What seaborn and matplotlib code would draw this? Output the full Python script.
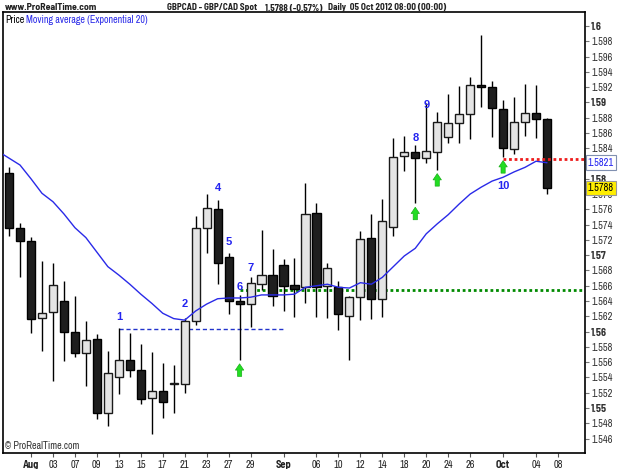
import numpy as np
import pandas as pd
import matplotlib
matplotlib.use("Agg")
import matplotlib.pyplot as plt
import matplotlib.transforms as mtransforms
import seaborn as sns

# daily GBPCAD candles, 30 Jul - 05 Oct 2012
days = pd.bdate_range("2012-07-30", "2012-10-05")
opens = [1.5808, 1.5736, 1.5719, 1.5618, 1.5626, 1.5640, 1.5599, 1.5572, 1.5590, 1.5493,
         1.5541, 1.5563, 1.5550, 1.5513, 1.5522, 1.5532, 1.5531, 1.5614, 1.5736, 1.5760,
         1.5698, 1.5640, 1.5636, 1.5662, 1.5674, 1.5687, 1.5661, 1.5658, 1.5755, 1.5660,
         1.5658, 1.5620, 1.5645, 1.5723, 1.5643, 1.5737, 1.5830, 1.5835, 1.5827, 1.5835,
         1.5855, 1.5873, 1.5885, 1.5923, 1.5920, 1.5891, 1.5839, 1.5874, 1.5886, 1.5878]
highs = [1.5815, 1.5742, 1.5724, 1.5692, 1.5690, 1.5666, 1.5647, 1.5614, 1.5597, 1.5575,
         1.5605, 1.5598, 1.5584, 1.5573, 1.5559, 1.5556, 1.5618, 1.5751, 1.5780, 1.5772,
         1.5703, 1.5648, 1.5671, 1.5733, 1.5708, 1.5695, 1.5696, 1.5795, 1.5768, 1.5690,
         1.5666, 1.5646, 1.5732, 1.5754, 1.5774, 1.5853, 1.5856, 1.5844, 1.5899, 1.5887,
         1.5911, 1.5921, 1.5933, 1.5988, 1.5928, 1.5903, 1.5907, 1.5924, 1.5923, 1.5880]
lows = [1.5725, 1.5671, 1.5598, 1.5575, 1.5535, 1.5562, 1.5567, 1.5529, 1.5486, 1.5476,
        1.5518, 1.5541, 1.5505, 1.5466, 1.5487, 1.5493, 1.5520, 1.5609, 1.5703, 1.5662,
        1.5623, 1.5563, 1.5606, 1.5654, 1.5634, 1.5627, 1.5619, 1.5637, 1.5619, 1.5618,
        1.5602, 1.5563, 1.5615, 1.5616, 1.5619, 1.5725, 1.5810, 1.5768, 1.5821, 1.5812,
        1.5847, 1.5847, 1.5852, 1.5894, 1.5855, 1.5829, 1.5832, 1.5856, 1.5853, 1.5780]
closes = [1.5736, 1.5719, 1.5616, 1.5624, 1.5661, 1.5599, 1.5572, 1.5589, 1.5493, 1.5546,
          1.5563, 1.5550, 1.5512, 1.5522, 1.5508, 1.5533, 1.5614, 1.5736, 1.5762, 1.5690,
          1.5640, 1.5636, 1.5664, 1.5674, 1.5647, 1.5660, 1.5656, 1.5754, 1.5658, 1.5683,
          1.5623, 1.5645, 1.5721, 1.5643, 1.5745, 1.5829, 1.5835, 1.5827, 1.5836, 1.5874,
          1.5873, 1.5885, 1.5923, 1.5920, 1.5893, 1.5840, 1.5874, 1.5886, 1.5878, 1.5788]

# exponential moving average (20), starting one day earlier (27 Jul)
ema_days = pd.bdate_range("2012-07-27", "2012-10-05")
ema20 = [1.5836, 1.5827, 1.5818, 1.5800, 1.5781, 1.5770, 1.5754, 1.5736, 1.5723, 1.5704,
         1.5685, 1.5674, 1.5662, 1.5649, 1.5637, 1.5624, 1.5617, 1.5615, 1.5627, 1.5636,
         1.5643, 1.5644, 1.5644, 1.5645, 1.5648, 1.5648, 1.5648, 1.5649, 1.5658, 1.5660,
         1.5662, 1.5658, 1.5657, 1.5664, 1.5662, 1.5671, 1.5685, 1.5699, 1.5709, 1.5728,
         1.5741, 1.5753, 1.5767, 1.5780, 1.5789, 1.5797, 1.5802, 1.5809, 1.5815, 1.5823,
         1.5821]

tick_days = ["2012-08-01", "2012-08-03", "2012-08-07", "2012-08-09", "2012-08-13",
             "2012-08-15", "2012-08-17", "2012-08-21", "2012-08-23", "2012-08-27",
             "2012-08-29", "2012-09-03", "2012-09-06", "2012-09-10", "2012-09-12",
             "2012-09-14", "2012-09-18", "2012-09-20", "2012-09-24", "2012-09-26",
             "2012-10-01", "2012-10-04", "2012-10-08"]
tick_names = ["Aug", "03", "07", "09", "13", "15", "17", "21", "23", "27", "29", "Sep",
              "06", "10", "12", "14", "18", "20", "24", "26", "Oct", "04", "08"]

# wave counts and signals
count_names = ["1", "2", "4", "5", "6", "7", "8", "9"]
count_days = ["2012-08-13", "2012-08-21", "2012-08-24", "2012-08-27", "2012-08-28",
              "2012-08-29", "2012-09-19", "2012-09-20"]
arrow_days = ["2012-08-28", "2012-09-19", "2012-09-21", "2012-10-01"]

blue_level, blue_from, blue_to = 1.5603, "2012-08-13", "2012-09-03"
green_level, green_from = 1.5654, "2012-08-28"
red_level, red_from = 1.5826, "2012-10-01"
last_price, last_ema = 1.5788, 1.5821

sns.set_style("white")
narrow = ['Archivo Narrow', 'Liberation Sans', 'DejaVu Sans']
narrow_bold = ['Barlow Semi Condensed', 'Liberation Sans', 'DejaVu Sans']
plt.rcParams['font.family'] = narrow

calendar = pd.bdate_range("2012-07-27", "2012-10-08")
pos = {d: k - 1 for k, d in enumerate(calendar)}
def px(d):
    return pos[pd.Timestamp(d)]

df = pd.DataFrame({"day": days, "open": opens, "high": highs, "low": lows, "close": closes})
df["x"] = df["day"].map(pos)
df = df.set_index("day")
ema = pd.DataFrame({"x": [pos[d] for d in ema_days], "ema": ema20})

fig = plt.figure(figsize=(6.25, 4.69), dpi=100)
ax = fig.add_axes([3 / 625, 1 - 453 / 469, 582 / 625, 441 / 469])

up = df.close >= df.open
ax.vlines(df.x, df.low, df.high, color='black', lw=1, zorder=2)
ax.bar(df.x[up], (df.close - df.open)[up], bottom=df.open[up], width=0.74,
       color='#e4e4e4', edgecolor='#1a1a1a', lw=1, zorder=3)
ax.bar(df.x[~up], (df.open - df.close)[~up], bottom=df.close[~up], width=0.74,
       color='#1e1e1e', edgecolor='black', lw=1, zorder=3)

sns.lineplot(data=ema, x="x", y="ema", color='#2a2ae8', lw=1, ax=ax, zorder=4)

ax.hlines(blue_level, px(blue_from), px(blue_to), colors='#2233cc', lw=1,
          linestyles=(0, (3, 2)), zorder=1)
ax.hlines(green_level, px(green_from), 60, colors='#008a00', lw=2,
          linestyles=(0, (1, 1)), zorder=1)
ax.hlines(red_level, px(red_from), 60, colors='#ee1c1c', lw=2,
          linestyles=(0, (1, 1)), zorder=5)

# count labels above the candles
label_offsets = [8, 10, 9, 8, 6, 7, 5, -1]
for name, d, off in zip(count_names, count_days, label_offsets):
    ax.annotate(name, xy=(px(d), df.loc[d, "high"]), xytext=(0, off),
                textcoords='offset points', ha='center', va='center',
                color='#2424f0', fontsize=8, fontweight='bold', family=['Liberation Sans'], zorder=6)
ax.annotate("10", xy=(px("2012-10-01"), df.loc["2012-10-01", "low"]), xytext=(0, -21),
            textcoords='offset points', ha='center', va='center',
            color='#2424f0', fontsize=8, fontweight='bold', family=['Liberation Sans'], zorder=6)

# green up arrows under the lows
for d in arrow_days:
    tip = mtransforms.offset_copy(ax.transData, fig=fig, y=-4, units='dots')
    ax.annotate('', xy=(px(d), df.loc[d, "low"]), xycoords=tip,
                xytext=(0, -9), textcoords='offset points',
                arrowprops=dict(arrowstyle='simple,head_length=0.45,head_width=0.6,tail_width=0.3',
                                fc='#22dd22', ec='#18b018', lw=0.5, shrinkA=0, shrinkB=0,
                                mutation_scale=10), zorder=6)

ax.set_xlim(-0.55, 52.46)
ax.set_ylim(1.54411, 1.60183)

ax.set_xticks([px(d) for d in tick_days])
ax.set_xticklabels(tick_names)
for lab in ax.get_xticklabels():
    if lab.get_text() in ("Aug", "Sep", "Oct"):
        lab.set_fontweight('bold')
        lab.set_family(narrow_bold)
ax.tick_params(axis='x', bottom=True, length=3, width=0.8, color='#555555', pad=2,
               labelsize=7.5, labelcolor='#222222')

yvals = np.round(np.arange(1.546, 1.6005, 0.002), 3)
ax.yaxis.tick_right()
ax.set_yticks(yvals)
ax.set_yticklabels([f"{v:.3f}".rstrip('0') for v in yvals])
for v, lab in zip(yvals, ax.get_yticklabels()):
    if round(v * 1000) % 10 == 0:
        lab.set_fontweight('bold')
        lab.set_family(narrow_bold)
        lab.set_fontsize(8)
ax.tick_params(axis='y', right=True, left=False, length=3, width=0.8, color='#777777',
               pad=1.5, labelsize=7.5, labelcolor='#333333')
ax.set_xlabel("")
ax.set_ylabel("")

for sp in ax.spines.values():
    sp.set_color('black')
    sp.set_linewidth(1.2)

ytr = mtransforms.blended_transform_factory(ax.transAxes, ax.transData)
ax.text(1.005, last_ema, f"{last_ema:.4f}", transform=ytr, va='center', ha='left',
        fontsize=7.5, color='#2424f0', zorder=7,
        bbox=dict(boxstyle='square,pad=0.22', fc='white', ec='#8090b0', lw=0.8))
ax.text(1.005, last_price, f"{last_price:.4f}", transform=ytr, va='center', ha='left',
        fontsize=7.5, color='black', zorder=7,
        bbox=dict(boxstyle='square,pad=0.22', fc='#ffee00', ec='#999999', lw=0.8))

ax.text(0.0035, 0.982, "Price", transform=ax.transAxes, fontsize=7.2, color='black', va='center')
ax.text(0.0395, 0.982, "Moving average (Exponential 20)", transform=ax.transAxes,
        fontsize=7.2, color='#2a2ae8', va='center')
ax.text(0.0035, 0.004, "\u00a9 ProRealTime.com", transform=ax.transAxes, fontsize=7.2,
        color='#333333', va='bottom')

hy = 1 - 8 / 469
head = dict(fontsize=6.6, fontweight='bold', va='center', color='#222222', family=narrow_bold)
fig.text(5 / 625, hy, "www.ProRealTime.com", fontsize=7, fontweight='bold', va='center',
         color='#222222', family=narrow_bold)
fig.text(167 / 625, hy, "GBPCAD - GBP/CAD Spot", **head)
fig.text(265 / 625, hy, "1.5788 (-0.57%)", **head)
fig.text(328 / 625, hy, "Daily  05 Oct 2012 08:00 (00:00)", **head)

fig.savefig("out.png", dpi=100)
